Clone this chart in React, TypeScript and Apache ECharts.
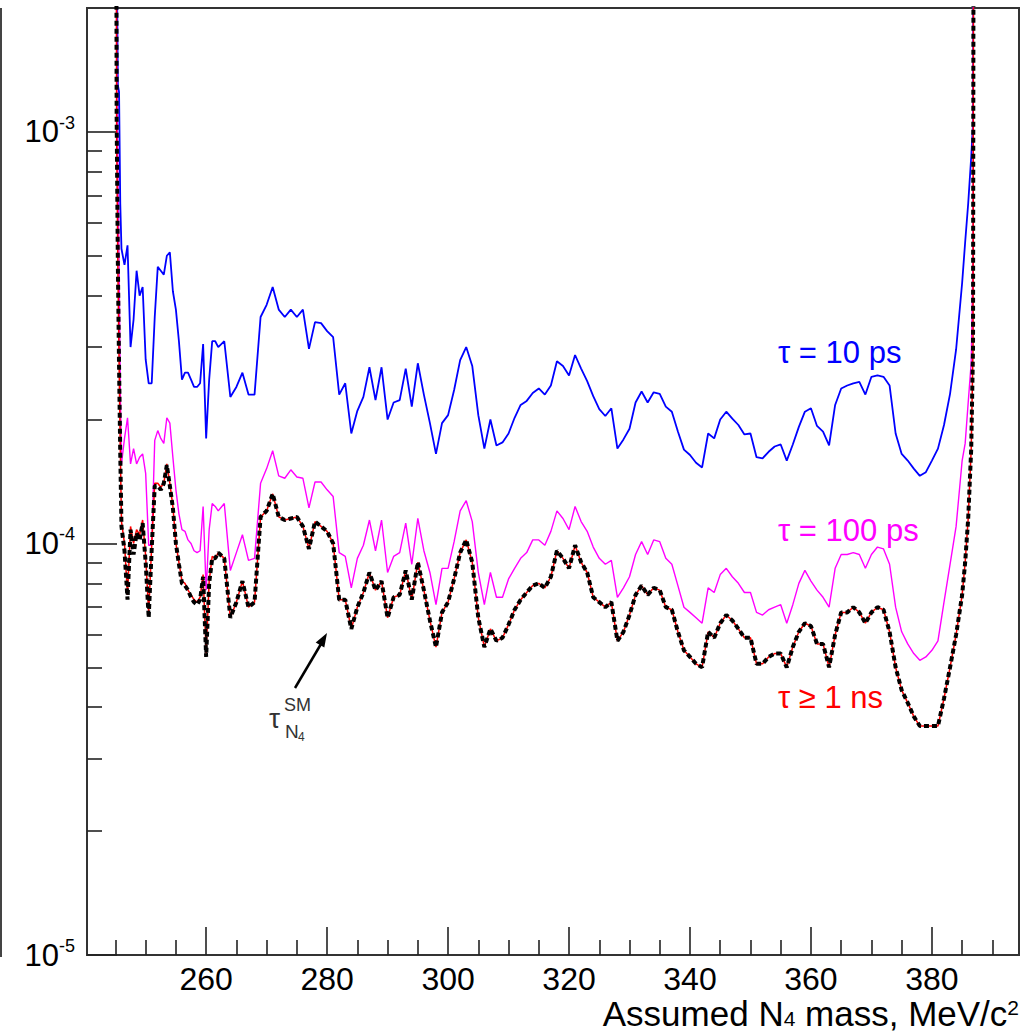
import React, { useEffect, useRef } from "react";
import * as echarts from "echarts";

const FONT = '"Liberation Sans", Arial, Helvetica, sans-serif';

// Assumed N4 mass grid (MeV/c^2)
const mass = [
  245, 245.2, 245.4, 245.6, 245.8,
  246, 246.5, 247, 247.5, 248, 248.5, 249, 249.5, 250, 250.5,
  251, 251.5, 252, 252.5, 253, 253.5, 254, 254.5, 255, 255.5,
  256, 256.5, 257, 257.5, 258, 258.5, 259, 259.5, 260, 260.5,
  261, 261.5, 262,
  263, 264, 265, 266, 267, 268, 269, 270, 271, 272,
  273, 274, 275, 276, 277, 278, 279, 280, 281, 282,
  283, 284, 285, 286, 287, 288, 289, 290, 291, 292,
  293, 294, 295, 296, 297, 298, 299, 300, 301, 302,
  303, 304, 305, 306, 307, 308, 309, 310, 311, 312,
  313, 314, 315, 316, 317, 318, 319, 320, 321, 322,
  323, 324, 325, 326, 327, 328, 329, 330, 331, 332,
  333, 334, 335, 336, 337, 338, 339, 340, 341, 342,
  343, 344, 345, 346, 347, 348, 349, 350, 351, 352,
  353, 354, 355, 356, 357, 358, 359, 360, 361, 362,
  363, 364, 365, 366, 367, 368, 369, 370, 371, 372,
  373, 374, 375, 376, 377, 378, 379, 380, 381, 382,
  383, 384, 385,
  385.5, 386, 386.5, 386.8, 387,
];

// tau = 10 ps (blue)
const tau10ps = [
  0.1, 3e-3, 1.3e-3, 1.25e-3, 6.7e-4,
  5.2e-4, 4.75e-4, 5.3e-4, 3.0e-4, 3.5e-4, 4.6e-4, 4.0e-4, 4.2e-4, 2.8e-4, 2.45e-4,
  2.45e-4, 3.55e-4, 4.7e-4, 4.6e-4, 4.5e-4, 5.0e-4, 5.1e-4, 4.1e-4, 3.7e-4, 3.1e-4,
  2.5e-4, 2.6e-4, 2.6e-4, 2.5e-4, 2.4e-4, 2.4e-4, 2.45e-4, 3.05e-4, 1.8e-4, 2.5e-4,
  3.1e-4, 3.1e-4, 3.0e-4,
  3.1e-4, 2.27e-4, 2.4e-4, 2.6e-4, 2.3e-4, 2.3e-4, 3.55e-4, 3.8e-4, 4.2e-4, 3.7e-4,
  3.55e-4, 3.7e-4, 3.55e-4, 3.7e-4, 2.97e-4, 3.45e-4, 3.43e-4, 3.28e-4, 3.17e-4, 2.3e-4,
  2.45e-4, 1.85e-4, 2.1e-4, 2.27e-4, 2.68e-4, 2.23e-4, 2.68e-4, 2.0e-4, 2.2e-4, 2.23e-4,
  2.66e-4, 2.15e-4, 2.74e-4, 2.3e-4, 1.96e-4, 1.65e-4, 1.96e-4, 2.05e-4, 2.36e-4, 2.79e-4,
  3.0e-4, 2.7e-4, 2.05e-4, 1.7e-4, 2.0e-4, 1.73e-4, 1.76e-4, 1.85e-4, 2.02e-4, 2.17e-4,
  2.22e-4, 2.32e-4, 2.38e-4, 2.3e-4, 2.42e-4, 2.77e-4, 2.7e-4, 2.56e-4, 2.87e-4, 2.66e-4,
  2.48e-4, 2.28e-4, 2.12e-4, 2.04e-4, 2.13e-4, 1.7e-4, 1.79e-4, 1.9e-4, 2.2e-4, 2.34e-4,
  2.2e-4, 2.33e-4, 2.31e-4, 2.15e-4, 2.09e-4, 1.87e-4, 1.69e-4, 1.64e-4, 1.57e-4, 1.53e-4,
  1.85e-4, 1.8e-4, 2.0e-4, 2.09e-4, 2.01e-4, 1.94e-4, 1.84e-4, 1.85e-4, 1.62e-4, 1.61e-4,
  1.67e-4, 1.72e-4, 1.74e-4, 1.59e-4, 1.74e-4, 1.92e-4, 2.09e-4, 2.13e-4, 1.93e-4, 1.87e-4,
  1.73e-4, 2.17e-4, 2.38e-4, 2.42e-4, 2.45e-4, 2.47e-4, 2.3e-4, 2.54e-4, 2.56e-4, 2.54e-4,
  2.42e-4, 1.85e-4, 1.65e-4, 1.59e-4, 1.52e-4, 1.46e-4, 1.49e-4, 1.59e-4, 1.7e-4, 1.94e-4,
  2.31e-4, 2.96e-4, 4.3e-4,
  5.4e-4, 6.7e-4, 8.7e-4, 1.05e-3, 0.1,
];

// tau = 100 ps (magenta)
const tau100ps = [
  0.1, 1.5e-3, 8e-4, 4.8e-4, 2.4e-4,
  1.56e-4, 1.8e-4, 2.02e-4, 1.56e-4, 1.7e-4, 1.56e-4, 1.62e-4, 1.65e-4, 1.48e-4, 9.9e-5,
  9.9e-5, 1.78e-4, 1.88e-4, 1.8e-4, 1.75e-4, 2.02e-4, 1.96e-4, 1.62e-4, 1.35e-4, 1.18e-4,
  1.08e-4, 1.07e-4, 1.02e-4, 1.0e-4, 9.6e-5, 9.5e-5, 9.6e-5, 1.23e-4, 7.7e-5, 1.08e-4,
  1.25e-4, 1.23e-4, 1.2e-4,
  1.25e-4, 8.6e-5, 9.5e-5, 1.05e-4, 9.1e-5, 9.2e-5, 1.4e-4, 1.52e-4, 1.68e-4, 1.46e-4,
  1.44e-4, 1.51e-4, 1.45e-4, 1.44e-4, 1.22e-4, 1.41e-4, 1.41e-4, 1.35e-4, 1.3e-4, 9.5e-5,
  9.3e-5, 7.8e-5, 9.2e-5, 9.9e-5, 1.14e-4, 9.6e-5, 1.14e-4, 8.5e-5, 9.3e-5, 9.5e-5,
  1.12e-4, 8.9e-5, 1.15e-4, 9.6e-5, 8.5e-5, 7.1e-5, 8.7e-5, 8.7e-5, 1.01e-4, 1.2e-4,
  1.27e-4, 1.13e-4, 8.5e-5, 7.1e-5, 8.5e-5, 7.4e-5, 7.4e-5, 8.2e-5, 8.7e-5, 9.2e-5,
  9.5e-5, 1.02e-4, 1.02e-4, 9.9e-5, 1.07e-4, 1.2e-4, 1.15e-4, 1.08e-4, 1.23e-4, 1.13e-4,
  1.07e-4, 9.8e-5, 9.2e-5, 8.9e-5, 9.1e-5, 7.4e-5, 7.8e-5, 8.3e-5, 9.4e-5, 1.01e-4,
  9.4e-5, 1.02e-4, 1.01e-4, 9.2e-5, 8.9e-5, 7.9e-5, 7.0e-5, 6.8e-5, 6.6e-5, 6.4e-5,
  7.8e-5, 7.6e-5, 8.4e-5, 8.7e-5, 8.3e-5, 8.0e-5, 7.6e-5, 7.6e-5, 6.8e-5, 6.7e-5,
  6.9e-5, 7.0e-5, 7.1e-5, 6.4e-5, 7.1e-5, 8.0e-5, 8.6e-5, 8.1e-5, 7.7e-5, 7.4e-5,
  7.0e-5, 8.7e-5, 9.4e-5, 9.4e-5, 9.5e-5, 9.4e-5, 8.7e-5, 9.4e-5, 9.8e-5, 9.7e-5,
  8.9e-5, 7.0e-5, 6.1e-5, 5.7e-5, 5.4e-5, 5.2e-5, 5.3e-5, 5.5e-5, 5.8e-5, 7.2e-5,
  8.9e-5, 1.1e-4, 1.59e-4,
  1.75e-4, 2.2e-4, 2.75e-4, 5e-4, 0.1,
];

// tau >= 1 ns (red)
const tau1ns = [
  0.1, 9.9e-4, 4.7e-4, 2.8e-4, 1.7e-4,
  1.13e-4, 1.0e-4, 7.5e-5, 1.1e-4, 1.0e-4, 1.08e-4, 1.05e-4, 1.14e-4, 9.3e-5, 6.8e-5,
  9.9e-5, 1.4e-4, 1.4e-4, 1.37e-4, 1.4e-4, 1.56e-4, 1.4e-4, 1.23e-4, 1.0e-4, 9.0e-5,
  8.1e-5, 8.0e-5, 7.7e-5, 7.5e-5, 7.3e-5, 7.2e-5, 7.4e-5, 8.4e-5, 5.4e-5, 8.1e-5,
  9.3e-5, 9.2e-5, 9.5e-5,
  9.2e-5, 6.6e-5, 7.2e-5, 8.1e-5, 7.0e-5, 7.2e-5, 1.16e-4, 1.2e-4, 1.32e-4, 1.16e-4,
  1.14e-4, 1.15e-4, 1.16e-4, 1.1e-4, 9.7e-5, 1.13e-4, 1.1e-4, 1.07e-4, 1.0e-4, 7.3e-5,
  7.3e-5, 6.2e-5, 7.0e-5, 7.6e-5, 8.5e-5, 7.7e-5, 8.1e-5, 6.6e-5, 7.4e-5, 7.5e-5,
  8.6e-5, 7.3e-5, 9.0e-5, 7.7e-5, 6.5e-5, 5.6e-5, 6.8e-5, 7.2e-5, 8.2e-5, 9.5e-5,
  1.02e-4, 9.0e-5, 6.6e-5, 5.6e-5, 6.2e-5, 5.8e-5, 5.9e-5, 6.35e-5, 6.9e-5, 7.3e-5,
  7.6e-5, 7.9e-5, 8.0e-5, 7.8e-5, 8.3e-5, 9.6e-5, 9.2e-5, 8.7e-5, 9.9e-5, 9.0e-5,
  8.5e-5, 7.4e-5, 7.2e-5, 7.0e-5, 7.2e-5, 5.8e-5, 6.1e-5, 6.7e-5, 7.5e-5, 7.9e-5,
  7.5e-5, 7.8e-5, 7.7e-5, 7.0e-5, 6.9e-5, 6.1e-5, 5.5e-5, 5.3e-5, 5.1e-5, 5.0e-5,
  6.1e-5, 5.9e-5, 6.4e-5, 6.7e-5, 6.5e-5, 6.2e-5, 5.9e-5, 5.9e-5, 5.1e-5, 5.1e-5,
  5.3e-5, 5.4e-5, 5.4e-5, 5.0e-5, 5.6e-5, 6.1e-5, 6.4e-5, 6.3e-5, 5.7e-5, 5.7e-5,
  5.0e-5, 6.0e-5, 6.8e-5, 6.8e-5, 7.0e-5, 6.8e-5, 6.4e-5, 6.8e-5, 7.0e-5, 6.9e-5,
  6.1e-5, 5.0e-5, 4.4e-5, 4.1e-5, 3.8e-5, 3.6e-5, 3.6e-5, 3.6e-5, 3.6e-5, 4.2e-5,
  5.0e-5, 6.0e-5, 7.5e-5,
  9.0e-5, 1.15e-4, 1.7e-4, 3e-4, 0.1,
];

// tau = tau_SM (black dashed)
const tauSM = [
  0.1, 1.1e-3, 4.8e-4, 2.7e-4, 1.65e-4,
  1.1e-4, 9.6e-5, 7.3e-5, 1.08e-4, 9.4e-5, 1.06e-4, 1.02e-4, 1.12e-4, 9.0e-5, 6.6e-5,
  9.7e-5, 1.38e-4, 1.38e-4, 1.35e-4, 1.4e-4, 1.55e-4, 1.38e-4, 1.22e-4, 1.0e-4, 8.9e-5,
  8.0e-5, 7.9e-5, 7.7e-5, 7.4e-5, 7.2e-5, 7.1e-5, 7.3e-5, 8.3e-5, 5.3e-5, 8.0e-5,
  9.2e-5, 9.2e-5, 9.5e-5,
  9.2e-5, 6.6e-5, 7.2e-5, 8.1e-5, 7.0e-5, 7.2e-5, 1.16e-4, 1.2e-4, 1.32e-4, 1.16e-4,
  1.14e-4, 1.15e-4, 1.16e-4, 1.1e-4, 9.7e-5, 1.13e-4, 1.1e-4, 1.07e-4, 1.0e-4, 7.3e-5,
  7.3e-5, 6.2e-5, 7.0e-5, 7.6e-5, 8.5e-5, 7.7e-5, 8.1e-5, 6.6e-5, 7.4e-5, 7.5e-5,
  8.6e-5, 7.3e-5, 9.0e-5, 7.7e-5, 6.5e-5, 5.6e-5, 6.8e-5, 7.2e-5, 8.2e-5, 9.5e-5,
  1.02e-4, 9.0e-5, 6.6e-5, 5.6e-5, 6.2e-5, 5.8e-5, 5.9e-5, 6.35e-5, 6.9e-5, 7.3e-5,
  7.6e-5, 7.9e-5, 8.0e-5, 7.8e-5, 8.3e-5, 9.6e-5, 9.2e-5, 8.7e-5, 9.9e-5, 9.0e-5,
  8.5e-5, 7.4e-5, 7.2e-5, 7.0e-5, 7.2e-5, 5.8e-5, 6.1e-5, 6.7e-5, 7.5e-5, 7.9e-5,
  7.5e-5, 7.8e-5, 7.7e-5, 7.0e-5, 6.9e-5, 6.1e-5, 5.5e-5, 5.3e-5, 5.1e-5, 5.0e-5,
  6.1e-5, 5.9e-5, 6.4e-5, 6.7e-5, 6.5e-5, 6.2e-5, 5.9e-5, 5.9e-5, 5.1e-5, 5.1e-5,
  5.3e-5, 5.4e-5, 5.4e-5, 5.0e-5, 5.6e-5, 6.1e-5, 6.4e-5, 6.3e-5, 5.7e-5, 5.7e-5,
  5.0e-5, 6.0e-5, 6.8e-5, 6.8e-5, 7.0e-5, 6.8e-5, 6.4e-5, 6.8e-5, 7.0e-5, 6.9e-5,
  6.1e-5, 5.0e-5, 4.4e-5, 4.1e-5, 3.8e-5, 3.6e-5, 3.6e-5, 3.6e-5, 3.6e-5, 4.2e-5,
  5.0e-5, 6.0e-5, 7.5e-5,
  9.0e-5, 1.15e-4, 1.7e-4, 3e-4, 0.1,
];

const xMin = 240.3;
const xMax = 394.4;
const yMin = 1e-5;
const yMax = 2e-3;
const xMajorTicks = [260, 280, 300, 320, 340, 360, 380];
const xMinorTicks = [245, 250, 255, 265, 270, 275, 285, 290, 295, 305, 310, 315, 325, 330, 335, 345, 350, 355, 365, 370, 375, 385, 390];
const yMinorTicks = [
  2e-5, 3e-5, 4e-5, 5e-5, 6e-5, 7e-5, 8e-5, 9e-5,
  2e-4, 3e-4, 4e-4, 5e-4, 6e-4, 7e-4, 8e-4, 9e-4,
];

export default function App() {
  const ref = useRef<HTMLDivElement>(null);
  useEffect(() => {
    if (!ref.current) return;
    const chart = echarts.init(ref.current, null, { renderer: "svg" });
    const pairs = (vals: number[]) => mass.map((m, i) => [m, vals[i]]);
    const tickStyle = { color: "#222", width: 1.6 };
    chart.setOption({
      animation: false,
      backgroundColor: "#ffffff",
      grid: {
        left: 87, top: 8, right: 6, bottom: 76,
        show: true, borderColor: "#333", borderWidth: 2, backgroundColor: "transparent",
      },
      xAxis: [
        {
          type: "value", min: xMin, max: xMax, position: "bottom",
          axisLine: { show: false }, splitLine: { show: false },
          axisTick: { show: true, inside: true, length: 28, customValues: xMajorTicks, lineStyle: tickStyle },
          axisLabel: { show: true, customValues: xMajorTicks, margin: 10, fontSize: 32, lineHeight: 28, fontFamily: FONT, color: "#000" },
        },
        {
          type: "value", min: xMin, max: xMax, position: "bottom",
          axisLine: { show: false }, splitLine: { show: false }, axisLabel: { show: false },
          axisTick: { show: true, inside: true, length: 15, customValues: xMinorTicks, lineStyle: tickStyle },
        },
      ],
      yAxis: [
        {
          type: "log", logBase: 10, min: yMin, max: yMax, position: "left",
          axisLine: { show: false }, splitLine: { show: false }, minorTick: { show: false },
          axisTick: { show: true, inside: true, length: 30, lineStyle: tickStyle },
          axisLabel: {
            show: true, showMaxLabel: false, margin: 12,
            formatter: (v: number) => `{b|10}{s|${Math.round(Math.log10(v))}}`,
            rich: {
              b: { fontSize: 31, fontFamily: FONT, color: "#000", lineHeight: 36 },
              s: { fontSize: 18, fontFamily: FONT, color: "#000", verticalAlign: "top", lineHeight: 18 },
            },
          },
        },
        {
          type: "value", min: Math.log10(yMin), max: Math.log10(yMax), position: "left",
          axisLine: { show: false }, splitLine: { show: false }, axisLabel: { show: false },
          axisTick: { show: true, inside: true, length: 15, customValues: yMinorTicks.map((v) => Math.log10(v)), lineStyle: tickStyle },
        },
      ],
      series: [
        {
          name: "tau = 10 ps", type: "line", xAxisIndex: 0, yAxisIndex: 0, data: pairs(tau10ps),
          symbol: "none", silent: true, z: 2, lineStyle: { color: "#0000ff", width: 1.8 },
        },
        {
          name: "tau = 100 ps", type: "line", xAxisIndex: 0, yAxisIndex: 0, data: pairs(tau100ps),
          symbol: "none", silent: true, z: 3, lineStyle: { color: "#ff00ff", width: 1.4 },
        },
        {
          name: "tau >= 1 ns", type: "line", xAxisIndex: 0, yAxisIndex: 0, data: pairs(tau1ns),
          symbol: "none", silent: true, z: 4, lineStyle: { color: "#ff0000", width: 1.5 },
        },
        {
          name: "tau SM", type: "line", xAxisIndex: 0, yAxisIndex: 0, data: pairs(tauSM),
          symbol: "none", silent: true, z: 5, lineStyle: { color: "#000000", width: 4, type: [5, 3] },
        },
      ],
      graphic: [
        { type: "line", shape: { x1: 1, y1: 8, x2: 1, y2: 957 }, style: { stroke: "#444", lineWidth: 2 } },
        { type: "text", x: 778, y: 352, style: { text: "τ = 10 ps", fill: "#0000ff", fontSize: 31, fontFamily: FONT, verticalAlign: "middle", align: "left" } },
        { type: "text", x: 778, y: 530, style: { text: "τ = 100 ps", fill: "#ff00ff", fontSize: 31, fontFamily: FONT, verticalAlign: "middle", align: "left" } },
        { type: "text", x: 778, y: 697, style: { text: "τ ≥ 1 ns", fill: "#ff0000", fontSize: 31, fontFamily: FONT, verticalAlign: "middle", align: "left" } },
        { type: "line", shape: { x1: 295, y1: 688, x2: 321, y2: 644 }, style: { stroke: "#000", lineWidth: 2.5 } },
        { type: "polygon", shape: { points: [[327, 633], [324.3, 647.6], [315.7, 642.6]] }, style: { fill: "#000" } },
        { type: "text", x: 269, y: 718, style: { text: "τ", fill: "#333", fontSize: 28, fontFamily: FONT, verticalAlign: "middle", align: "left" } },
        { type: "text", x: 284, y: 705, style: { text: "SM", fill: "#333", fontSize: 18, fontFamily: FONT, verticalAlign: "middle", align: "left" } },
        { type: "text", x: 285, y: 731, style: { text: "N", fill: "#333", fontSize: 19, fontFamily: FONT, verticalAlign: "middle", align: "left" } },
        { type: "text", x: 298, y: 737, style: { text: "4", fill: "#333", fontSize: 12, fontFamily: FONT, verticalAlign: "middle", align: "left" } },
        {
          type: "text", x: 1019, y: 1029,
          style: {
            text: "{t|Assumed N}{sub|4}{t| mass, MeV/c}{sup|2}",
            align: "right", verticalAlign: "bottom", fill: "#000", fontFamily: FONT,
            rich: {
              t: { fontSize: 35, fontFamily: FONT, fill: "#000", lineHeight: 32 },
              sub: { fontSize: 21, fontFamily: FONT, fill: "#000", verticalAlign: "bottom", lineHeight: 20 },
              sup: { fontSize: 21, fontFamily: FONT, fill: "#000", verticalAlign: "top", lineHeight: 20 },
            },
          },
        },
      ],
    });
    return () => chart.dispose();
  }, []);
  return <div ref={ref} style={{ position: "absolute", left: 0, top: 0, width: 1025, height: 1031 }} />;
}
